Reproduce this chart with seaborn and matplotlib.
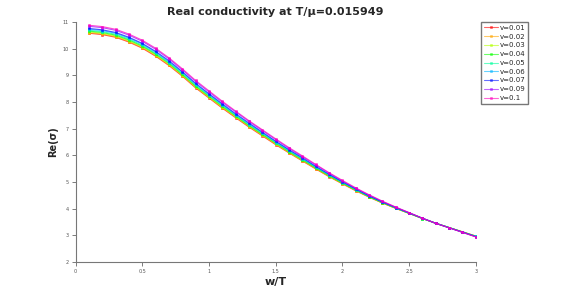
import numpy as np
import pandas as pd
import matplotlib
matplotlib.use('Agg')
import matplotlib.pyplot as plt
from matplotlib.lines import Line2D
import seaborn as sns

# frequency grid w/T
w = [0.1, 0.2, 0.3, 0.4, 0.5, 0.6, 0.7, 0.8, 0.9, 1.0,
     1.1, 1.2, 1.3, 1.4, 1.5, 1.6, 1.7, 1.8, 1.9, 2.0,
     2.1, 2.2, 2.3, 2.4, 2.5, 2.6, 2.7, 2.8, 2.9, 3.0]

v_labels = ['v=0.01', 'v=0.02', 'v=0.03', 'v=0.04', 'v=0.05',
            'v=0.06', 'v=0.07', 'v=0.09', 'v=0.1']

# Re(sigma), one list per v
re_v001 = [10.58, 10.53, 10.43, 10.25, 10.02, 9.72, 9.37, 8.97, 8.53, 8.15,
           7.77, 7.41, 7.06, 6.73, 6.40, 6.09, 5.79, 5.49, 5.20, 4.93,
           4.67, 4.43, 4.21, 4.01, 3.82, 3.63, 3.45, 3.29, 3.13, 2.97]
re_v002 = [10.60, 10.55, 10.45, 10.27, 10.04, 9.74, 9.39, 8.99, 8.55, 8.17,
           7.79, 7.43, 7.08, 6.75, 6.42, 6.10, 5.80, 5.50, 5.21, 4.94,
           4.68, 4.44, 4.21, 4.01, 3.82, 3.63, 3.45, 3.29, 3.13, 2.97]
re_v003 = [10.63, 10.58, 10.48, 10.30, 10.07, 9.77, 9.42, 9.01, 8.57, 8.19,
           7.81, 7.45, 7.10, 6.77, 6.44, 6.12, 5.82, 5.52, 5.22, 4.95,
           4.69, 4.44, 4.22, 4.02, 3.82, 3.63, 3.45, 3.29, 3.13, 2.97]
re_v004 = [10.66, 10.61, 10.51, 10.33, 10.10, 9.80, 9.45, 9.04, 8.60, 8.22,
           7.84, 7.48, 7.12, 6.79, 6.46, 6.14, 5.84, 5.53, 5.24, 4.96,
           4.70, 4.45, 4.23, 4.02, 3.83, 3.63, 3.45, 3.29, 3.12, 2.96]
re_v005 = [10.69, 10.64, 10.54, 10.36, 10.13, 9.83, 9.48, 9.07, 8.63, 8.25,
           7.87, 7.50, 7.15, 6.82, 6.48, 6.16, 5.86, 5.55, 5.26, 4.98,
           4.71, 4.46, 4.24, 4.03, 3.83, 3.63, 3.45, 3.29, 3.12, 2.96]
re_v006 = [10.73, 10.68, 10.58, 10.40, 10.17, 9.87, 9.51, 9.11, 8.67, 8.28,
           7.90, 7.53, 7.18, 6.84, 6.51, 6.19, 5.88, 5.57, 5.27, 4.99,
           4.72, 4.47, 4.24, 4.03, 3.83, 3.64, 3.45, 3.29, 3.12, 2.96]
re_v007 = [10.76, 10.71, 10.61, 10.43, 10.20, 9.90, 9.55, 9.14, 8.70, 8.31,
           7.93, 7.56, 7.21, 6.87, 6.53, 6.21, 5.91, 5.59, 5.29, 5.01,
           4.74, 4.48, 4.25, 4.04, 3.84, 3.64, 3.45, 3.28, 3.12, 2.95]
re_v009 = [10.84, 10.79, 10.69, 10.51, 10.28, 9.98, 9.62, 9.21, 8.77, 8.38,
           7.99, 7.63, 7.27, 6.93, 6.59, 6.26, 5.95, 5.64, 5.33, 5.04,
           4.76, 4.51, 4.27, 4.05, 3.85, 3.64, 3.45, 3.28, 3.11, 2.94]
re_v010 = [10.88, 10.83, 10.73, 10.55, 10.32, 10.02, 9.66, 9.25, 8.81, 8.42,
           8.03, 7.66, 7.30, 6.96, 6.62, 6.29, 5.98, 5.66, 5.35, 5.06,
           4.78, 4.52, 4.28, 4.06, 3.85, 3.64, 3.45, 3.28, 3.11, 2.94]

series = [re_v001, re_v002, re_v003, re_v004, re_v005,
          re_v006, re_v007, re_v009, re_v010]

# long format table for seaborn
rows = []
for lab, vals in zip(v_labels, series):
    for x, y in zip(w, vals):
        rows.append({'w': x, 're': y, 'v': lab})
df = pd.DataFrame(rows)

sns.set_style('ticks')
plt.rcParams['font.family'] = ['DejaVu Sans']

# hsv colours like octave's hsv(9)
colors = [plt.cm.hsv(i / 9.0) for i in range(9)]

fig = plt.figure(figsize=(5.81, 2.94), dpi=100)
ax = fig.add_axes([0.130, 0.109, 0.689, 0.816])

sns.lineplot(data=df, x='w', y='re', hue='v', hue_order=v_labels,
             palette=colors, marker='s', markersize=2.0,
             linewidth=0.8, alpha=0.7, legend=False, ax=ax)

# markers in the line colour (seaborn gives them a white edge)
for ln in ax.get_lines():
    ln.set_markeredgecolor(ln.get_color())
    ln.set_markeredgewidth(0.4)

ax.set_xlim(0, 3)
ax.set_ylim(2, 11)
ax.set_xticks([0, 0.5, 1, 1.5, 2, 2.5, 3])
ax.set_xticklabels(['0', '0.5', '1', '1.5', '2', '2.5', '3'])
ax.set_yticks(range(2, 12))
ax.tick_params(labelsize=3.5, length=3, width=0.6, colors='#666666',
               labelcolor='#555555', pad=2)
for s in ['left', 'bottom']:
    ax.spines[s].set_color('#777777')
    ax.spines[s].set_linewidth(0.8)
sns.despine(ax=ax)

ax.set_title('Real conductivity at T/μ=0.015949', fontsize=8,
             fontweight='bold', pad=5)
ax.set_xlabel('w/T', fontsize=8, fontweight='bold', labelpad=2)
ax.set_ylabel('Re(σ)', fontsize=7, fontweight='bold', labelpad=3)

handles = [Line2D([], [], color=c, alpha=0.6, linewidth=0.8, marker='s',
                  markersize=2.0, markeredgecolor=c, markeredgewidth=0.4)
           for c in colors]
ax.legend(handles, v_labels, loc='upper left',
          bbox_to_anchor=(0.828, 0.925), bbox_transform=fig.transFigure,
          fontsize=5.0, frameon=True, fancybox=False, edgecolor='#777777',
          framealpha=1, handlelength=2.0, handletextpad=0.3,
          labelspacing=0.4, borderpad=0.4, borderaxespad=0)

fig.savefig('out.png', dpi=100)
